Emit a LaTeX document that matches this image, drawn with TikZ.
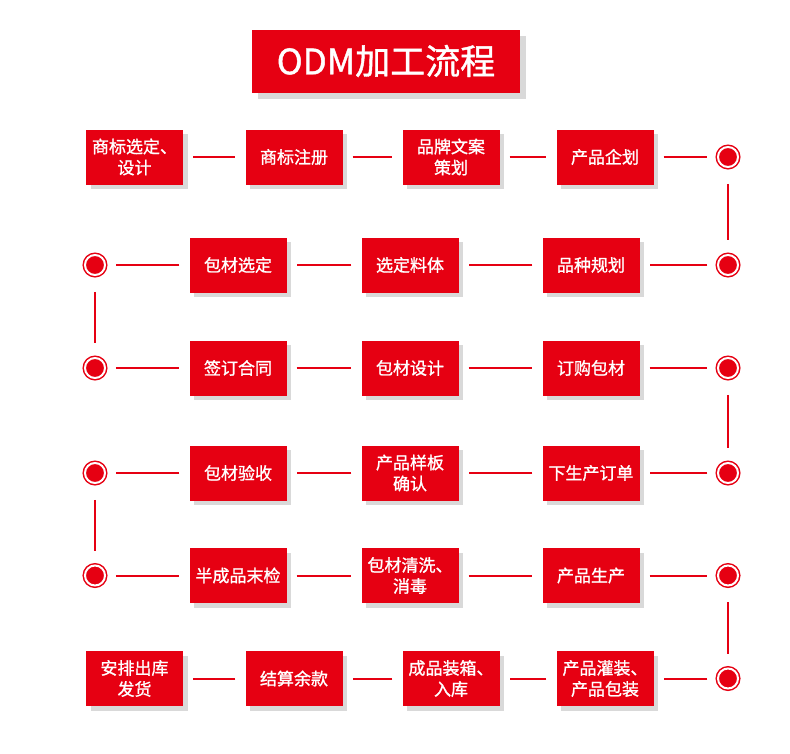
\documentclass[tikz,border=0pt]{standalone}
\usepackage{fontspec}
\setmainfont{Noto Sans CJK SC}[FakeBold=1.2]
\usepackage{xcolor}
\usetikzlibrary{shadows}
\definecolor{odmred}{RGB}{230,0,18}

\begin{document}
\begin{tikzpicture}[x=1pt, y=-1pt,
    stepbox/.style={rectangle, fill=odmred, text=white, minimum width=97pt, minimum height=55pt, inner sep=0pt, align=center, font=\fontsize{17}{21}\selectfont, drop shadow={shadow xshift=4.5pt, shadow yshift=-4.5pt, fill=black!15, opacity=1}},
    titlebox/.style={rectangle, fill=odmred, text=white, minimum width=268pt, minimum height=63pt, inner sep=0pt, font=\fontsize{35}{40}\selectfont, drop shadow={shadow xshift=6pt, shadow yshift=-6pt, fill=black!15, opacity=1}},
    ringdot/.style={circle, minimum size=20pt, inner sep=0pt, fill=odmred, draw=odmred, line width=1.5pt, double=white, double distance=2pt},
    link/.style={draw=odmred, line width=2pt, shorten <=10pt, shorten >=10pt},
    turn/.style={draw=odmred, line width=2pt, shorten <=16pt, shorten >=14pt}]
    \useasboundingbox (0,0) rectangle (790,753);

    \node[titlebox] (title) at (386,61) {ODM加工流程};

    % row 1
    \node[stepbox] (s1) at (134.5,157) {商标选定、\\设计};
    \node[stepbox] (s2) at (294,157) {商标注册};
    \node[stepbox] (s3) at (451,157) {品牌文案\\策划};
    \node[stepbox] (s4) at (605,157) {产品企划};
    \node[ringdot] (d1) at (728,157) {};

    % row 2
    \node[ringdot] (d2) at (728,265) {};
    \node[stepbox] (s5) at (591,265) {品种规划};
    \node[stepbox] (s6) at (410,265) {选定料体};
    \node[stepbox] (s7) at (238,265) {包材选定};
    \node[ringdot] (d3) at (95,265) {};

    % row 3
    \node[ringdot] (d4) at (95,368) {};
    \node[stepbox] (s8) at (238,368) {签订合同};
    \node[stepbox] (s9) at (410,368) {包材设计};
    \node[stepbox] (s10) at (591,368) {订购包材};
    \node[ringdot] (d5) at (728,368) {};

    % row 4
    \node[ringdot] (d6) at (728,473) {};
    \node[stepbox] (s11) at (591,473) {下生产订单};
    \node[stepbox] (s12) at (410,473) {产品样板\\确认};
    \node[stepbox] (s13) at (238,473) {包材验收};
    \node[ringdot] (d7) at (95,473) {};

    % row 5
    \node[ringdot] (d8) at (95,575.5) {};
    \node[stepbox] (s14) at (238,575.5) {半成品末检};
    \node[stepbox] (s15) at (410,575.5) {包材清洗、\\消毒};
    \node[stepbox] (s16) at (591,575.5) {产品生产};
    \node[ringdot] (d9) at (728,575.5) {};

    % row 6
    \node[ringdot] (d10) at (728,678.5) {};
    \node[stepbox] (s17) at (605,678.5) {产品灌装、\\产品包装};
    \node[stepbox] (s18) at (451,678.5) {成品装箱、\\入库};
    \node[stepbox] (s19) at (294,678.5) {结算余款};
    \node[stepbox] (s20) at (134.5,678.5) {安排出库\\发货};

    \foreach \a/\b in {s1/s2, s2/s3, s3/s4, s4/d1, d2/s5, s5/s6, s6/s7, s7/d3,
                       d4/s8, s8/s9, s9/s10, s10/d5, d6/s11, s11/s12, s12/s13, s13/d7,
                       d8/s14, s14/s15, s15/s16, s16/d9, d10/s17, s17/s18, s18/s19, s19/s20}
        \draw[link] (\a) -- (\b);

    \foreach \a/\b in {d1/d2, d3/d4, d5/d6, d7/d8, d9/d10}
        \draw[turn] (\a) -- (\b);
\end{tikzpicture}
\end{document}
